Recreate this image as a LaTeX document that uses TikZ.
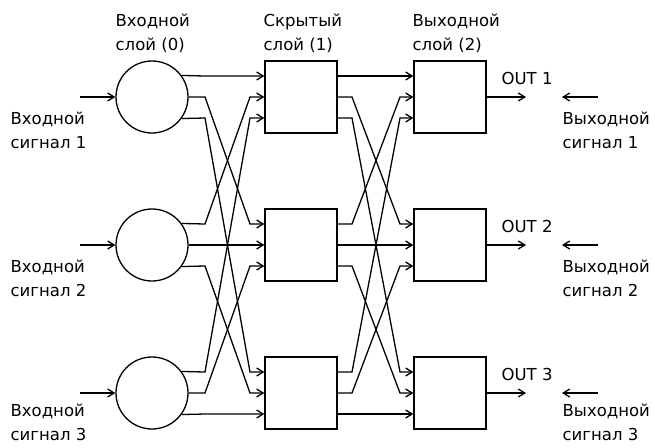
\documentclass[tikz,border=0pt]{standalone}
\usepackage{fontspec}
\setmainfont{DejaVu Sans}
\usetikzlibrary{arrows.meta,positioning}
\tikzset{
  neuron/.style={draw,circle,minimum size=72pt,inner sep=0pt},
  unit/.style={draw,rectangle,minimum width=72pt,minimum height=72pt,inner sep=0pt},
  link/.style={-{Straight Barb[length=6.5pt,width=8pt]}},
  caption/.style={align=left,inner sep=0pt,font=\fontsize{16.5}{24}\selectfont},
}

\begin{document}
\begin{tikzpicture}[x=1pt,y=-1pt,line width=1.3pt]
    \useasboundingbox[fill=white] (0,0) rectangle (655,447);
    % three layers: input neurons, hidden and output units
    \foreach \r/\y in {1/97,2/245,3/393}{
      \node[neuron] (in\r) at (152,\y) {};
      \node[unit] (h\r) at (301,\y) {};
      \node[unit] (o\r) at (450,\y) {};
    }
    % every unit feeds every unit of the next layer
    \foreach \i in {1,2,3}{
      \foreach \j in {1,2,3}{
        \pgfmathtruncatemacro\yo{97+148*(\i-1)+21*(\j-2)}
        \pgfmathtruncatemacro\yi{97+148*(\j-1)+21*(\i-2)}
        \pgfmathtruncatemacro\ang{-36*(\j-2)}
        \pgfmathtruncatemacro\dout{-21*(\j-2)}
        \pgfmathtruncatemacro\din{-21*(\i-2)}
        \draw[link] (in\i.\ang) -- (205,\yo) -- (250,\yi) -- ([yshift=\din pt]h\j.west);
        \draw[link] ([yshift=\dout pt]h\i.east) -- (352,\yo) -- (400,\yi) -- ([yshift=\din pt]o\j.west);
      }
    }
    % signals in and out
    \foreach \r/\y/\t in {1/97/111,2/245/259,3/393/403}{
      \coordinate (src\r) at (80,\y);
      \coordinate (out\r) at (526,\y);
      \coordinate (fb\r) at (598,\y);
      \coordinate (fe\r) at (562,\y);
      \draw[link] (src\r) -- (in\r);
      \draw[link] (o\r) -- (out\r);
      \draw[link] (fb\r) -- (fe\r);
      \node[caption,anchor=north west] (lin\r) at (10,\t) {Входной\\сигнал \r};
      \node[caption,anchor=north west] (lout\r) at (562,\t) {Выходной\\сигнал \r};
      \node[caption,anchor=base west] (lo\r) at (501,\y-13) {OUT \r};
    }
    \node[caption,anchor=north west] (t0) at (115,13) {Входной\\слой (0)};
    \node[caption,anchor=north west] (t1) at (263,13) {Скрытый\\слой (1)};
    \node[caption,anchor=north west] (t2) at (412,13) {Выходной\\слой (2)};
\end{tikzpicture}
\end{document}
